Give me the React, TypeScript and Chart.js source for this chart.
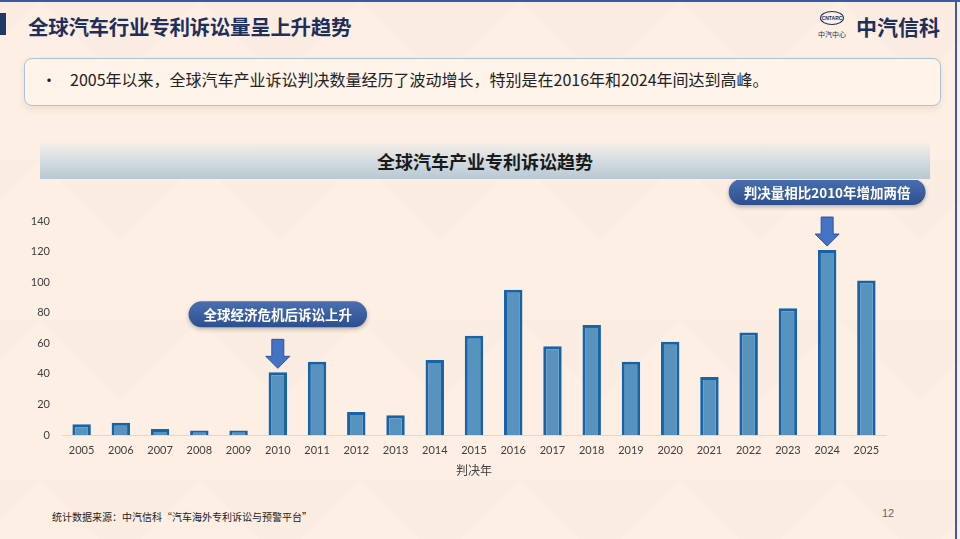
import React, { useEffect, useRef } from "react";
import { Chart, registerables } from "chart.js";

Chart.register(...registerables);

const years = ["2005","2006","2007","2008","2009","2010","2011","2012","2013","2014","2015","2016","2017","2018","2019","2020","2021","2022","2023","2024","2025"];
const judgments = [7, 8, 4, 3, 3, 41, 48, 15, 13, 49, 65, 95, 58, 72, 48, 61, 38, 67, 83, 121, 101];
const yTicks = [0, 20, 40, 60, 80, 100, 120, 140];
const callouts = [
  { year: "2010", text: "全球经济危机后诉讼上升" },
  { year: "2024", text: "判决量相比2010年增加两倍" },
];

const pageTitle = "全球汽车行业专利诉讼量呈上升趋势";
const bulletText = "2005年以来，全球汽车产业诉讼判决数量经历了波动增长，特别是在2016年和2024年间达到高峰。";
const chartTitle = "全球汽车产业专利诉讼趋势";
const xTitle = "判决年";
const sourceText = "统计数据来源：中汽信科“汽车海外专利诉讼与预警平台”";
const pageNo = "12";

const CJK = '"Noto Sans CJK SC", "Noto Sans", sans-serif';

function roundRect(ctx: CanvasRenderingContext2D, x: number, y: number, w: number, h: number, r: number) {
  ctx.beginPath();
  ctx.moveTo(x + r, y);
  ctx.lineTo(x + w - r, y);
  ctx.arc(x + w - r, y + r, r, -Math.PI / 2, 0);
  ctx.lineTo(x + w, y + h - r);
  ctx.arc(x + w - r, y + h - r, r, 0, Math.PI / 2);
  ctx.lineTo(x + r, y + h);
  ctx.arc(x + r, y + h - r, r, Math.PI / 2, Math.PI);
  ctx.lineTo(x, y + r);
  ctx.arc(x + r, y + r, r, Math.PI, Math.PI * 1.5);
  ctx.closePath();
}

const calloutPlugin = {
  id: "callouts",
  afterDatasetsDraw(chart: any) {
    const ctx: CanvasRenderingContext2D = chart.ctx;
    const xs = chart.scales.x;
    const ys = chart.scales.y;
    callouts.forEach((c) => {
      const idx = years.indexOf(c.year);
      const cx = xs.getPixelForValue(idx);
      const top = ys.getPixelForValue(judgments[idx]);
      const tipY = top - 4;
      const arrowTop = tipY - 29;
      ctx.save();
      ctx.fillStyle = "#4472C4";
      ctx.strokeStyle = "#2F5597";
      ctx.lineWidth = 1;
      ctx.beginPath();
      ctx.moveTo(cx - 6, arrowTop);
      ctx.lineTo(cx + 6, arrowTop);
      ctx.lineTo(cx + 6, tipY - 12);
      ctx.lineTo(cx + 12, tipY - 12);
      ctx.lineTo(cx, tipY);
      ctx.lineTo(cx - 12, tipY - 12);
      ctx.lineTo(cx - 6, tipY - 12);
      ctx.closePath();
      ctx.fill();
      ctx.stroke();
      ctx.font = `bold 13.5px ${CJK}`;
      const tw = ctx.measureText(c.text).width;
      const w = tw + 30;
      const h = 26;
      const py = arrowTop - 12 - h;
      const px = cx - w / 2;
      ctx.shadowColor = "rgba(0,0,0,0.25)";
      ctx.shadowBlur = 4;
      ctx.shadowOffsetY = 2;
      const g = ctx.createLinearGradient(0, py, 0, py + h);
      g.addColorStop(0, "#4A6FB0");
      g.addColorStop(1, "#2C4F8F");
      ctx.fillStyle = g;
      roundRect(ctx, px, py, w, h, 13);
      ctx.fill();
      ctx.shadowColor = "transparent";
      ctx.fillStyle = "#FFFFFF";
      ctx.textAlign = "center";
      ctx.textBaseline = "middle";
      ctx.fillText(c.text, cx, py + h / 2 + 1);
      ctx.restore();
    });
  },
};

function BarChart() {
  const ref = useRef<HTMLCanvasElement | null>(null);
  useEffect(() => {
    if (!ref.current) return;
    const chart = new Chart(ref.current, {
      type: "bar",
      data: {
        labels: years,
        datasets: [
          {
            data: judgments,
            backgroundColor: "#5892BF",
            borderColor: "#1763A8",
            borderWidth: 3,
            categoryPercentage: 1,
            barPercentage: 0.47,
          },
        ],
      },
      options: {
        animation: false,
        responsive: false,
        maintainAspectRatio: false,
        layout: { padding: { left: 0, right: 74, top: 41, bottom: 0 } },
        plugins: { legend: { display: false }, tooltip: { enabled: false } },
        scales: {
          x: {
            grid: { display: false, drawTicks: false },
            border: { display: true, color: "#D9D9D9", width: 1 },
            ticks: { color: "#404040", font: { size: 11, family: "Lato, sans-serif" }, padding: 9, maxRotation: 0, autoSkip: false },
            title: { display: true, text: xTitle, color: "#404040", font: { size: 12, family: CJK }, padding: { top: 2, bottom: 12 } },
            afterFit: (s: any) => { s.height = 55; },
          },
          y: {
            min: 0,
            max: 140,
            afterBuildTicks: (s: any) => { s.ticks = yTicks.map((v) => ({ value: v })); },
            grid: { display: false, drawTicks: false },
            border: { display: false },
            ticks: { color: "#404040", font: { size: 11, family: "Lato, sans-serif" }, padding: 12 },
            afterFit: (s: any) => { s.width = 62; },
          },
        },
      },
      plugins: [calloutPlugin],
    });
    return () => chart.destroy();
  }, []);
  return <canvas ref={ref} width={960} height={310} style={{ display: "block", width: 960, height: 310 }} />;
}

export default function App() {
  useEffect(() => {
    document.body.style.margin = "0";
  }, []);
  const bg =
    "linear-gradient(135deg, rgba(225,210,195,0.08) 25%, transparent 25%) -40px 0/160px 160px, " +
    "linear-gradient(225deg, rgba(225,210,195,0.08) 25%, transparent 25%) -40px 0/160px 160px, #FDEFE3";
  return (
    <div style={{ position: "fixed", left: 0, top: 0, width: 960, height: 539, overflow: "hidden", background: bg, fontFamily: CJK }}>
      <div style={{ position: "absolute", left: 0, top: 0, width: 960, height: 2, background: "#3B5BA5" }} />
      <div style={{ position: "absolute", right: 3, top: 0, width: 2, height: 539, background: "#3B5BA5" }} />
      <div style={{ position: "absolute", left: 0, top: 13, width: 6, height: 22, background: "#1F3864" }} />
      <div style={{ position: "absolute", left: 28, top: 12, fontSize: 20.5, fontWeight: 700, color: "#1F2F5C", lineHeight: "28px", letterSpacing: -0.3 }}>{pageTitle}</div>
      <div style={{ position: "absolute", left: 815, top: 11, width: 34, height: 30, textAlign: "center" }}>
        <div style={{ margin: "0 auto", width: 22, height: 12, borderRadius: "50%", border: "1.5px solid #1F2F5C", fontSize: 5, lineHeight: "12px", color: "#1F2F5C", fontWeight: 700, fontFamily: "Liberation Sans, sans-serif" }}>CNTARC</div>
        <div style={{ fontSize: 7, color: "#1F2F5C", lineHeight: "12px", marginTop: 3, whiteSpace: "nowrap" }}>中汽中心</div>
      </div>
      <div style={{ position: "absolute", left: 856, top: 12, fontSize: 21, fontWeight: 700, color: "#1F2F5C", lineHeight: "28px" }}>中汽信科</div>
      <div style={{ position: "absolute", left: 24, top: 58, width: 917, height: 48, borderRadius: 8, border: "1px solid #A9C3D8", background: "rgba(255,245,236,0.7)", boxShadow: "0 3px 6px rgba(150,120,100,0.15)", boxSizing: "border-box" }} />
      <div style={{ position: "absolute", left: 41, top: 68, fontSize: 16, color: "#222", lineHeight: "22px", whiteSpace: "nowrap" }}>
        <span style={{ marginRight: 13 }}>•</span>{bulletText}
      </div>
      <div style={{ position: "absolute", left: 40, top: 143, width: 890, height: 36, background: "linear-gradient(180deg, #F6EEE7 0%, #D6DEE2 45%, #B7C8D3 100%)", textAlign: "center", fontSize: 18, fontWeight: 700, color: "#1A1A1A", lineHeight: "36px" }}>{chartTitle}</div>
      <div style={{ position: "absolute", left: 0, top: 180 }}>
        <BarChart />
      </div>
      <div style={{ position: "absolute", left: 52, top: 509, fontSize: 10, color: "#222", whiteSpace: "nowrap" }}>{sourceText}</div>
      <div style={{ position: "absolute", left: 882, top: 507, fontSize: 11, color: "#666", fontFamily: "Liberation Sans, sans-serif" }}>{pageNo}</div>
    </div>
  );
}
